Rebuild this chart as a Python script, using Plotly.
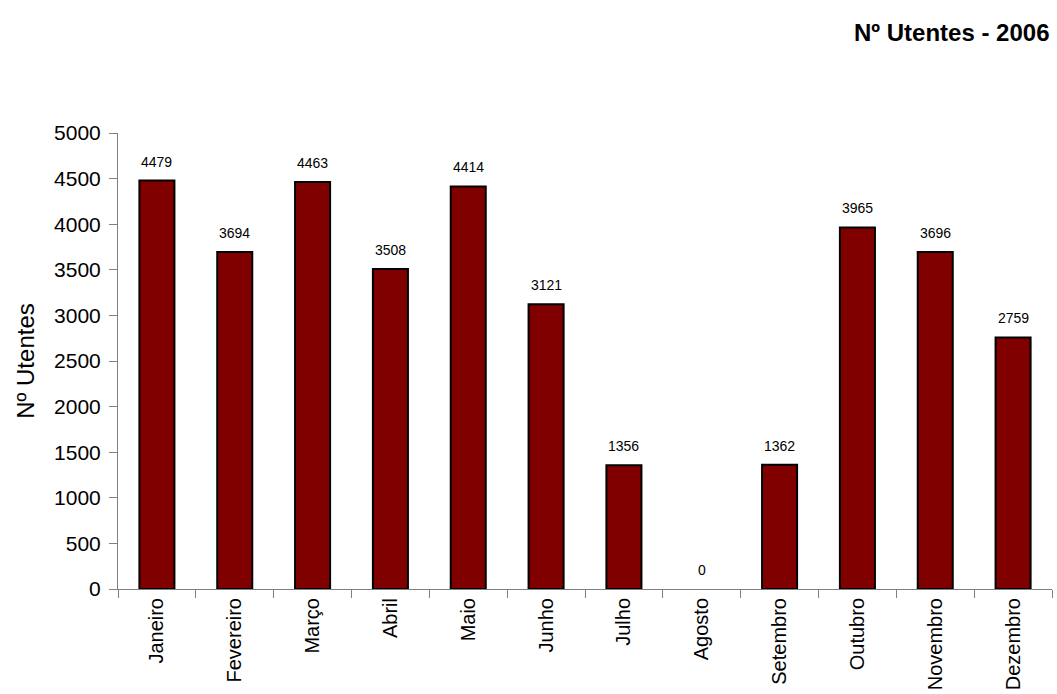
import plotly.graph_objects as go

months = ["Janeiro", "Fevereiro", "Março", "Abril", "Maio", "Junho", "Julho",
          "Agosto", "Setembro", "Outubro", "Novembro", "Dezembro"]
utentes = [4479, 3694, 4463, 3508, 4414, 3121, 1356, 0, 1362, 3965, 3696, 2759]
y_ticks = list(range(0, 5001, 500))

font_main = "Liberation Sans Narrow, Arial Narrow, Liberation Sans, Arial, sans-serif"

fig = go.Figure()
fig.add_trace(go.Bar(
    x=months, y=utentes,
    marker=dict(color="#800000",
                line=dict(color="black", width=[2 if v > 0 else 0 for v in utentes])),
    width=0.45,
))

for m, v in zip(months, utentes):
    fig.add_annotation(x=m, y=v, text=str(v), showarrow=False,
                       yanchor="bottom", yshift=9,
                       font=dict(family="Liberation Sans, Arial, sans-serif", size=14, color="black"))

fig.add_annotation(xref="paper", yref="paper", x=1.0, y=1.0, yshift=85,
                   xanchor="right", yanchor="bottom", showarrow=False,
                   text="<b>Nº Utentes - 2006</b>",
                   font=dict(family=font_main, size=24, color="black"))

fig.update_layout(
    width=1057, height=694,
    margin=dict(l=118, r=5, t=133, b=105),
    paper_bgcolor="white", plot_bgcolor="white",
    showlegend=False,
    xaxis=dict(
        type="category", tickangle=-90, showgrid=False,
        showline=True, linecolor="#808080", linewidth=1,
        ticks="outside", tickson="boundaries", ticklen=8, tickcolor="#808080",
        tickfont=dict(family=font_main, size=20, color="black"),
    ),
    yaxis=dict(
        range=[0, 5000], tickvals=y_ticks, showgrid=False, zeroline=False,
        showline=True, linecolor="#808080", linewidth=1,
        ticks="outside", ticklen=8, tickcolor="#808080",
        ticklabelstandoff=4,
        tickfont=dict(family=font_main, size=21, color="black"),
        title=dict(text="Nº Utentes", standoff=12,
                   font=dict(family=font_main, size=24, color="black")),
    ),
)

fig.write_html("out.html")
